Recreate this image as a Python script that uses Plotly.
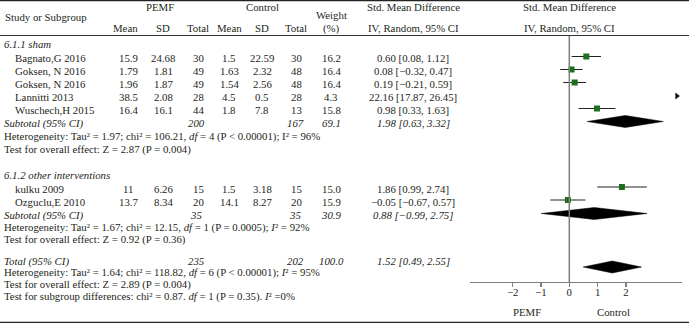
import plotly.graph_objects as go

# ---------------- data ----------------
studies = ["Bagnato,G 2016", "Goksen, N 2016", "Goksen, N 2016", "Lannitti 2013",
           "Wuschech,H 2015", "kulku 2009", "Ozguclu,E 2010"]
pemf_mean = [15.9, 1.79, 1.96, 38.5, 16.4, 11, 13.7]
pemf_sd = [24.68, 1.81, 1.87, 2.08, 16.1, 6.26, 8.34]
pemf_n = [30, 49, 49, 28, 44, 15, 20]
ctrl_mean = [1.5, 1.63, 1.54, 4.5, 1.8, 1.5, 14.1]
ctrl_sd = [22.59, 2.32, 2.56, 0.5, 7.8, 3.18, 8.27]
ctrl_n = [30, 48, 48, 28, 13, 15, 20]
weight = [16.2, 16.4, 16.4, 4.3, 15.8, 15.0, 15.9]
smd = [0.60, 0.08, 0.19, 22.16, 0.98, 1.86, -0.05]
ci_lo = [0.08, -0.32, -0.21, 17.87, 0.33, 0.99, -0.67]
ci_hi = [1.12, 0.47, 0.59, 26.45, 1.63, 2.74, 0.57]

group_labels = ["6.1.1 sham", "6.1.2 other interventions"]
sub_pemf_n = [200, 35]
sub_ctrl_n = [167, 35]
sub_weight = [69.1, 30.9]
sub_smd = [1.98, 0.88]
sub_lo = [0.63, -0.99]
sub_hi = [3.32, 2.75]
sub_het = ["Heterogeneity: Tau² = 1.97; chi² = 106.21, <i>df</i> = 4 (P < 0.00001); I² = 96%",
           "Heterogeneity: Tau² = 1.67; chi² = 12.15, <i>df</i> = 1 (P = 0.0005); <i>I</i>² = 92%"]
sub_test = ["Test for overall effect: Z = 2.87 (P = 0.004)",
            "Test for overall effect: Z = 0.92 (P = 0.36)"]

tot_pemf_n = 235
tot_ctrl_n = 202
tot_weight = 100.0
tot_smd = 1.52
tot_lo = 0.49
tot_hi = 2.55
tot_het = "Heterogeneity: Tau² = 1.64; chi² = 118.82, <i>df</i> = 6 (P < 0.00001); <i>I</i>² = 95%"
tot_test = "Test for overall effect: Z = 2.89 (P = 0.004)"
subgroup_test = "Test for subgroup differences: chi² = 0.87. <i>df</i> = 1 (P = 0.35). <i>I</i>² =0%"

tick_vals = [-2, -1, 0, 1, 2]
tick_text = ["−2", "−1", "0", "1", "2"]

# ---------------- layout positions (pixels) ----------------
W, H = 689, 324
FONT = "Liberation Serif"
FS = 10.8
TXT = "#231f20"
study_y = [58, 71, 84, 97, 110, 188.5, 201.5]
group_y = [43.5, 175]
sub_y = [123, 215]
het_y = [136.5, 227.5]
test_y = [149, 239.5]
tot_y = 261
tot_het_y = 272
tot_test_y = 284
subgrp_y = 296.5
mark_dy = -1.5
tot_diamond_dy = 6
axis_y = 282
XR = [-3.52, 3.97]
px0, pxu = 569.3, 28.3  # pixel of 0 and pixels per unit
dom = [(px0 + XR[0] * pxu) / W, (px0 + XR[1] * pxu) / W]

col_x = dict(pm=128, psd=163, pn=198, cm=229, csd=262, cn=296, w=331, smd=413)


def fmt(v, d=2):
    s = f"{v:.{d}f}"
    return s.replace("-", "−")


def ci_txt(e, lo, hi):
    return f"{fmt(e)} [{fmt(lo)}, {fmt(hi)}]"


annotations = []


def txt(x, y, s, anchor="center", italic=False, size=FS, xref="paper"):
    if italic:
        s = f"<i>{s}</i>"
    annotations.append(dict(
        x=(x / W if xref == "paper" else x), y=y, xref=xref, yref="y",
        text=s, showarrow=False, xanchor=anchor, yanchor="middle",
        font=dict(family=FONT, size=size, color=TXT)))


# headers
txt(3, 17, "Study or Subgroup", anchor="left")
txt(160, 7, "PEMF")
txt(262, 7, "Control")
txt(col_x["w"], 15, "Weight")
txt(col_x["w"], 28, "(%)")
for k, s in [("pm", "Mean"), ("psd", "SD"), ("pn", "Total"),
             ("cm", "Mean"), ("csd", "SD"), ("cn", "Total")]:
    txt(col_x[k] - (3 if k in ("pm",) else 0), 28, s)
txt(col_x["smd"], 7, "Std. Mean Difference")
txt(col_x["smd"], 28, "IV, Random, 95% CI")
txt(0, 7, "Std. Mean Difference", xref="x")
txt(0, 28, "IV, Random, 95% CI", xref="x")

# group labels
for g, y in zip(group_labels, group_y):
    txt(2, y, g, anchor="left", italic=True)

# studies
for i, s in enumerate(studies):
    y = study_y[i]
    txt(13, y, s, anchor="left")
    txt(col_x["pm"], y, f"{pemf_mean[i]:g}")
    txt(col_x["psd"], y, f"{pemf_sd[i]:g}")
    txt(col_x["pn"], y, str(pemf_n[i]))
    txt(col_x["cm"], y, f"{ctrl_mean[i]:g}")
    txt(col_x["csd"], y, f"{ctrl_sd[i]:g}")
    txt(col_x["cn"], y, str(ctrl_n[i]))
    txt(col_x["w"], y, f"{weight[i]:.1f}")
    txt(col_x["smd"], y, ci_txt(smd[i], ci_lo[i], ci_hi[i]))

# subtotals
for g in range(2):
    y = sub_y[g]
    txt(2, y, "Subtotal (95% CI)", anchor="left", italic=True)
    txt(col_x["pn"] - 2, y, str(sub_pemf_n[g]), italic=True)
    txt(col_x["cn"] - 1, y, str(sub_ctrl_n[g]), italic=True)
    txt(col_x["w"], y, f"{sub_weight[g]:.1f}", italic=True)
    txt(col_x["smd"], y, ci_txt(sub_smd[g], sub_lo[g], sub_hi[g]), italic=True)
    txt(2, het_y[g], sub_het[g], anchor="left")
    txt(2, test_y[g], sub_test[g], anchor="left")

# total
txt(2, tot_y, "Total (95% CI)", anchor="left", italic=True)
txt(col_x["pn"] - 2, tot_y, str(tot_pemf_n), italic=True)
txt(col_x["cn"] - 1, tot_y, str(tot_ctrl_n), italic=True)
txt(col_x["w"], tot_y, f"{tot_weight:.1f}", italic=True)
txt(col_x["smd"], tot_y, ci_txt(tot_smd, tot_lo, tot_hi), italic=True)
txt(2, tot_het_y, tot_het, anchor="left")
txt(2, tot_test_y, tot_test, anchor="left")
txt(2, subgrp_y, subgroup_test, anchor="left")

# axis side labels
txt(-1.5, 311.5, "PEMF", xref="x")
txt(1.55, 311.5, "Control", xref="x")

fig = go.Figure()

# study CIs and squares (in-range)
in_idx = [i for i in range(len(studies)) if ci_lo[i] < XR[1]]
fig.add_trace(go.Scatter(
    x=[smd[i] for i in in_idx],
    y=[study_y[i] + mark_dy for i in in_idx],
    mode="markers",
    marker=dict(symbol="square", size=6, color="#1d6e1d", line=dict(width=0)),
    error_x=dict(type="data", symmetric=False,
                 array=[ci_hi[i] - smd[i] for i in in_idx],
                 arrayminus=[smd[i] - ci_lo[i] for i in in_idx],
                 color="#222222", thickness=1, width=0),
    showlegend=False, hoverinfo="skip", cliponaxis=True))

# off-scale indicators
out_idx = [i for i in range(len(studies)) if ci_lo[i] >= XR[1]]
fig.add_trace(go.Scatter(
    x=[XR[1] - 0.17 for _ in out_idx],
    y=[study_y[i] - 1 for i in out_idx],
    mode="markers",
    marker=dict(symbol="triangle-right", size=6, color="#111111"),
    showlegend=False, hoverinfo="skip"))

# diamonds
def diamond(est, lo, hi, yc, h=6):
    return [lo, est, hi, est, lo], [yc, yc - h, yc, yc + h, yc]

for g in range(2):
    dx, dy = diamond(sub_smd[g], sub_lo[g], sub_hi[g], sub_y[g] + mark_dy)
    fig.add_trace(go.Scatter(x=dx, y=dy, mode="lines", fill="toself",
                             fillcolor="#000000", line=dict(color="#000000", width=0.5),
                             showlegend=False, hoverinfo="skip"))
dx, dy = diamond(tot_smd, tot_lo, tot_hi, tot_y + tot_diamond_dy)
fig.add_trace(go.Scatter(x=dx, y=dy, mode="lines", fill="toself",
                         fillcolor="#000000", line=dict(color="#000000", width=0.5),
                         showlegend=False, hoverinfo="skip"))

shapes = [
    dict(type="line", xref="paper", yref="y", x0=0, x1=1, y0=0.6, y1=0.6,
         line=dict(color="#222222", width=1.3)),
    dict(type="line", xref="paper", yref="y", x0=0, x1=1, y0=35.5, y1=35.5,
         line=dict(color="#333333", width=1)),
    dict(type="line", xref="paper", yref="y", x0=0, x1=1, y0=322.3, y1=322.3,
         line=dict(color="#222222", width=1.3)),
    dict(type="line", xref="x", yref="y", x0=0, x1=0, y0=36, y1=axis_y,
         line=dict(color="#7f7f7f", width=1.5)),
]

fig.update_layout(
    width=W, height=H,
    margin=dict(l=0, r=0, t=0, b=0),
    paper_bgcolor="white", plot_bgcolor="white",
    showlegend=False,
    annotations=annotations,
    shapes=shapes,
    xaxis=dict(range=XR, domain=dom, anchor="free", position=1 - axis_y / H,
               showline=True, linecolor="#7f7f7f", linewidth=1.3,
               ticks="outside", ticklen=4, tickcolor="#7f7f7f", tickwidth=1.2,
               ticklabelstandoff=-4,
               tickvals=tick_vals, ticktext=tick_text,
               tickfont=dict(family=FONT, size=FS, color=TXT),
               showgrid=False, zeroline=False, fixedrange=True),
    yaxis=dict(range=[H, 0], domain=[0, 1], visible=False, fixedrange=True,
               showgrid=False, zeroline=False),
)

fig.write_html("out.html",
               config={"displayModeBar": False, "staticPlot": True},
               post_script="document.body.style.margin='0';document.body.style.overflow='hidden';")
